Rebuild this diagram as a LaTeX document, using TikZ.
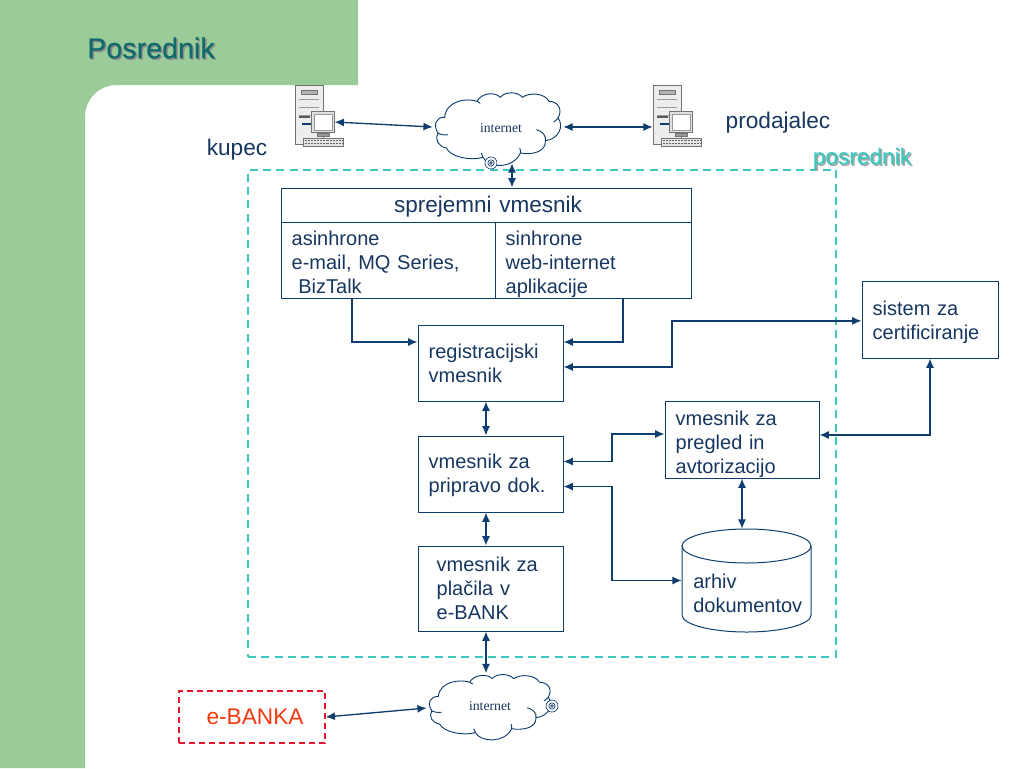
\documentclass[tikz,border=0pt]{standalone}
\usepackage{fontspec}
\setmainfont{Liberation Sans}
\newfontfamily\serifcloud{Liberation Serif}
\newfontfamily\heavyfont[FakeBold=0.6]{Liberation Sans}
\usetikzlibrary{arrows.meta}
\definecolor{slidegreen}{HTML}{9BCB99}
\definecolor{navy}{HTML}{0F3D6E}
\definecolor{inknavy}{HTML}{17365F}
\definecolor{titleteal}{HTML}{0F6B6B}
\definecolor{frameteal}{HTML}{3CC8BE}
\definecolor{bankred}{HTML}{E3172F}
\definecolor{bankorange}{HTML}{F4380F}
\newcommand{\toppad}[1]{\rule{0pt}{#1pt}}
\tikzset{
  vbox/.style={draw=navy,line width=0.75pt,align=left,inner xsep=8pt,inner ysep=0pt,text=inknavy,font=\fontsize{15}{18}\selectfont},
  wire/.style={draw=navy,line width=1pt,>={Latex[length=7pt,width=6pt]}},
  cloudbox/.style={inner sep=0pt,text=inknavy,font=\serifcloud\fontsize{10.3}{12}\selectfont},
  spiral/.style={circle,draw=navy,line width=0.5pt,fill=white,minimum size=9pt,inner sep=0pt},
  pcpart/.style={draw=black!55,line width=0.4pt,fill=black!7,inner sep=0pt},
  pics/server/.style={code={
    \node[pcpart,minimum width=21pt,minimum height=44pt] (-tower) at (13,29.5) {};
    \node[pcpart,fill=black!30,minimum width=12pt,minimum height=3pt] at (13,7) {};
    \draw[black!40,line width=0.3pt] (3,14) -- (23,14) (3,22) -- (23,22) (3,30) -- (23,30);
    \draw[black!65,line width=1pt] (3,32) -- (14,32);
    \draw[navy,line width=0.8pt] (6,39) -- (15,39);
    \node[pcpart,fill=black!12,minimum width=17pt,minimum height=16pt] (-monitor) at (27,37) {};
    \node[draw=black!40,line width=0.3pt,fill=white,minimum width=13.5pt,minimum height=12pt,inner sep=0pt] (-screen) at (27,37) {};
    \node[pcpart,fill=black!40,minimum width=9pt,minimum height=2pt] (-stand) at (27,49.5) {};
    \node[pcpart,fill=black!10,minimum width=30pt,minimum height=6pt] (-keyboard) at (27.5,57) {};
    \draw[black!60,line width=0.8pt,dash pattern=on 0.7pt off 0.4pt] (9,55.5) -- (46,55.5) (9,58.5) -- (46,58.5);
  }}
}
\begin{document}
\begin{tikzpicture}[x=0.75pt,y=-0.75pt]
\useasboundingbox (0,0) rectangle (1024,768);

\fill[slidegreen] (0,0) -- (358,0) -- (358,85) -- (117,85) .. controls (99,85) and (85,99) .. (85,117) -- (85,768) -- (0,768) -- cycle;

\node[anchor=west,inner sep=0pt,text=black!45,font=\heavyfont\fontsize{21.5}{24}\selectfont] (titleshadow) at (88.5,49.5) {Posrednik};
\node[anchor=west,inner sep=0pt,text=titleteal,font=\heavyfont\fontsize{21.5}{24}\selectfont] (title) at (87,48) {Posrednik};

\node[draw=frameteal,line width=0.9pt,dash pattern=on 6pt off 4pt,minimum width=441pt,minimum height=365.25pt,inner sep=0pt] (frame) at (542,413.5) {};
\node[text=black!35,font=\heavyfont\fontsize{17}{20}\selectfont] (frameshadow) at (863.5,160) {posrednik};
\node[text=frameteal,font=\heavyfont\fontsize{17}{20}\selectfont] (framelabel) at (862,158.5) {posrednik};

\node[text=inknavy,font=\fontsize{17}{20}\selectfont] (kupec) at (237,150) {kupec};
\node[text=inknavy,font=\fontsize{17}{20}\selectfont] (prodajalec) at (778,123) {prodajalec};

\pic (kupecpc) at (296,85) {server};
\pic (prodajalecpc) at (654,85) {server};

\node[cloudbox,minimum width=97.5pt,minimum height=57pt] (cloudtop) at (498,130) {\hspace*{4.5pt}\raisebox{3.5pt}{internet}};
\node[cloudbox,minimum width=94.5pt,minimum height=51.75pt] (cloudbottom) at (490,708) {\raisebox{3pt}{internet}};
\foreach \c/\xs/\ys in {cloudtop/1/1,cloudbottom/0.97/0.9}
  \draw[navy,line width=0.7pt,shift={(\c.center)},x=\xs*0.25pt,y=-\ys*0.25pt,shift={(-205,-136)}]
    (45,98) .. controls (22,95) and (8,120) .. (25,145)
    .. controls (15,165) and (25,185) .. (50,190)
    .. controls (60,215) and (120,230) .. (160,218)
    .. controls (175,250) and (250,255) .. (272,205)
    .. controls (310,212) and (350,200) .. (347,168)
    .. controls (385,165) and (405,125) .. (385,100)
    .. controls (400,75) and (385,50) .. (358,50)
    .. controls (345,25) and (300,22) .. (278,38)
    .. controls (265,20) and (225,20) .. (212,38)
    .. controls (195,20) and (155,25) .. (142,50)
    .. controls (115,40) and (50,45) .. (45,98) -- cycle
    (25,145) .. controls (32,150) and (45,152) .. (55,150)
    (320,135) .. controls (340,140) and (350,155) .. (347,168)
    (385,100) .. controls (382,105) and (378,108) .. (372,112)
    (142,50) .. controls (145,52) and (148,54) .. (152,56)
    (272,205) .. controls (273,198) and (272,194) .. (270,190)
    (160,218) -- (155,205);
\node[spiral] (spiraltop) at (491,163) {};
\node[spiral] (spiralbottom) at (552,706) {};
\draw[navy,line width=0.5pt] (spiraltop.center) circle (2.4pt) (spiraltop.center) circle (1pt) (spiralbottom.center) circle (2.4pt) (spiralbottom.center) circle (1pt);

\node[vbox,text width=291.5pt,minimum height=25.5pt,align=center,font=\fontsize{16.9}{18}\selectfont] (sprejemni) at (486,205) {\toppad{14}\hspace*{3pt}sprejemni vmesnik};
\node[vbox,text width=144.5pt,minimum height=57pt] (asinhrone) at (388,260) {\toppad{14}asinhrone\\e-mail, MQ Series,\\\ BizTalk};
\node[vbox,text width=131pt,minimum height=57pt] (sinhrone) at (593,260) {\toppad{17}sinhrone\\web-internet\\aplikacije};

\node[vbox,text width=92.75pt,minimum height=57pt] (registracijski) at (490.5,363) {registracijski\\vmesnik};
\node[vbox,text width=92.75pt,minimum height=57pt] (pripravo) at (490.5,474) {\toppad{12.5}vmesnik za\\pripravo dok.};
\node[vbox,inner xsep=14pt,text width=80.75pt,minimum height=63.75pt] (placila) at (490.5,588.5) {vmesnik za\\plačila v\\e-BANK};
\node[vbox,text width=99.5pt,minimum height=57.75pt] (pregled) at (742,439.5) {\toppad{18.5}vmesnik za\\pregled in\\avtorizacijo};
\node[vbox,text width=86pt,minimum height=57.75pt] (sistem) at (930,319.5) {\toppad{15}sistem za\\certificiranje};

\node[minimum width=96.75pt,minimum height=77.25pt,inner sep=0pt] (arhiv) at (746.5,580.5) {};
\draw[navy,line width=0.75pt] (682,546) -- (682,615) arc (180:360:48.4pt and 12.75pt) -- (811,546);
\draw[navy,line width=0.75pt] (746.5,546) ellipse (48.4pt and 12.75pt);
\node[anchor=west,align=left,text=inknavy,font=\fontsize{15}{18}\selectfont,inner sep=0pt] (arhivtext) at (693,593) {arhiv\\dokumentov};

\node[draw=bankred,line width=0.9pt,dash pattern=on 4.5pt off 3pt,minimum width=109.5pt,minimum height=39pt,text=bankorange,font=\fontsize{17}{20}\selectfont] (ebanka) at (252,717) {\hspace*{4.5pt}e-BANKA};

\coordinate (bendsistem) at (672,367);
\coordinate (bendpregled) at (612,434);

\path[wire,<->] (kupecpc-monitor.east) -- ([yshift=2.25pt]cloudtop.west);
\path[wire,<->] ([yshift=2.25pt]cloudtop.east) -- ([yshift=2.25pt]cloudtop.east -| prodajalecpc-tower.west);
\path[wire,<->] ([xshift=10.5pt,yshift=3.75pt]cloudtop.south) -- (sprejemni.north -| 512,0);
\path[wire,->] ([xshift=-27pt]asinhrone.south) |- ([yshift=15.75pt]registracijski.west);
\path[wire,->] ([xshift=22.5pt]sinhrone.south) |- ([yshift=15.75pt]registracijski.east);
\path[wire,<->] ([yshift=-1pt]sistem.west) -| (bendsistem) -- ([yshift=-3pt]registracijski.east);
\path[wire,<->] ([xshift=-3.4pt]registracijski.south) -- ([xshift=-3.4pt]pripravo.north);
\path[wire,<->] ([xshift=-3.4pt]pripravo.south) -- ([xshift=-3.4pt]placila.north);
\path[wire,<->] ([xshift=-3.4pt]placila.south) -- ([xshift=-3.4pt]cloudbottom.north -| placila.south);
\path[wire,<->] ([yshift=9.4pt]pripravo.east) -| (bendpregled) -- (pregled.west |- bendpregled);
\path[wire,<->] ([yshift=-9.4pt]pripravo.east) -| (bendpregled |- arhiv.center) -- (arhiv.west |- arhiv.center);
\path[wire,<->] (pregled.south) -- (arhiv.north -| pregled.south);
\path[wire,<->] ([yshift=3.4pt]pregled.east) -| (sistem.south);
\path[wire,<->] (ebanka.east) -- (cloudbottom.west);
\end{tikzpicture}
\end{document}
